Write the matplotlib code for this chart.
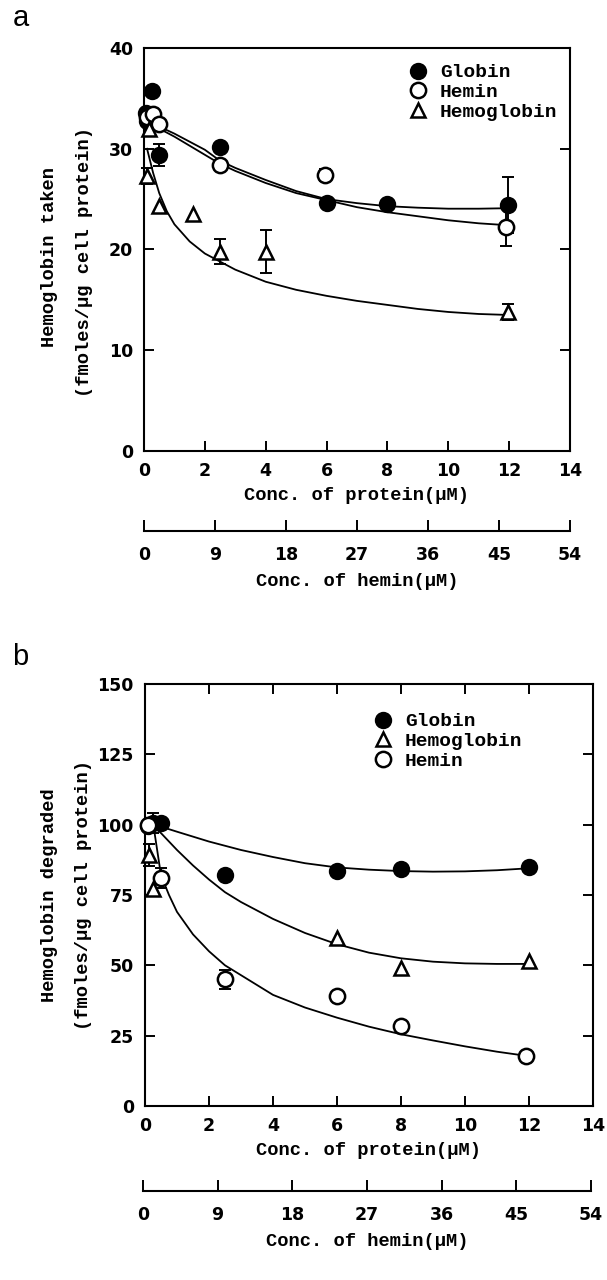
import numpy as np
import matplotlib.pyplot as plt

W, H = 607, 1280

# ---- panel a: uptake ----
a_glob_x = [0.05, 0.1, 0.25, 0.5, 2.5, 6, 8, 11.95]
a_glob_y = [33.5, 32.8, 35.7, 29.4, 30.2, 24.6, 24.5, 24.4]
a_glob_e = [0, 0, 0, 1.1, 0, 0, 0, 2.8]
a_hemin_x = [0.1, 0.3, 0.5, 2.5, 5.95, 11.9]
a_hemin_y = [33.2, 33.4, 32.5, 28.4, 27.4, 22.2]
a_hemin_e = [0, 0, 0, 0, 0.6, 1.9]
a_hb_x = [0.1, 0.15, 0.5, 1.6, 2.5, 4, 11.95]
a_hb_y = [27.3, 32.0, 24.3, 23.5, 19.8, 19.8, 13.8]
a_hb_e = [0.8, 0, 0, 0, 1.2, 2.1, 0.8]

# fitted curves
a_fit_x = [0.1, 0.5, 1, 1.5, 2, 2.5, 3, 4, 5, 6, 7, 8, 9, 10, 11, 12]
a_fit_glob = [32.8, 32.2, 31.5, 30.7, 29.9, 28.8, 28.1, 26.9, 25.8, 25.0, 24.6, 24.3, 24.15, 24.05, 24.05, 24.1]
a_fit_hemin = [32.6, 32.0, 31.2, 30.3, 29.4, 28.5, 27.8, 26.6, 25.6, 24.9, 24.2, 23.7, 23.3, 22.9, 22.6, 22.4]
a_fit_hb_x = [0.1, 0.3, 0.5, 0.75, 1, 1.5, 2, 2.5, 3, 4, 5, 6, 7, 8, 9, 10, 11, 12]
a_fit_hb = [30.0, 27.6, 25.6, 23.8, 22.5, 20.8, 19.6, 18.8, 18.0, 16.8, 16.0, 15.4, 14.9, 14.5, 14.1, 13.8, 13.6, 13.5]

# ---- panel b: degradation ----
b_glob_x = [0.1, 0.25, 0.5, 2.5, 6, 8, 12]
b_glob_y = [99.5, 100.5, 100.5, 82.0, 83.4, 84.1, 84.9]
b_glob_e = [0, 3.5, 0, 0, 0, 0, 0]
b_hb_x = [0.12, 0.25, 6, 8, 12]
b_hb_y = [89.3, 77.3, 59.8, 48.9, 51.5]
b_hb_e = [4, 0, 0, 0, 0]
b_hemin_x = [0.1, 0.5, 2.5, 6, 8, 11.9]
b_hemin_y = [100, 81, 45, 39.2, 28.4, 17.7]
b_hemin_e = [0, 3.5, 3.5, 0, 0, 0]

b_fit_glob_x = [0.3, 1, 2, 3, 4, 5, 6, 7, 8, 9, 10, 11, 12]
b_fit_glob = [100, 97.5, 94, 91, 88.5, 86.3, 84.8, 84.0, 83.5, 83.3, 83.4, 83.8, 84.5]
b_fit_hb_x = [0.3, 0.5, 1, 1.5, 2, 2.5, 3, 4, 5, 6, 7, 8, 9, 10, 11, 12]
b_fit_hb = [99, 97, 91, 85.5, 80.5, 76, 72.5, 66.5, 61.5, 57.5, 54.5, 52.5, 51.3, 50.7, 50.5, 50.5]
b_fit_hemin_x = [0.3, 0.5, 0.75, 1, 1.5, 2, 2.5, 3, 4, 5, 6, 7, 8, 9, 10, 11, 12]
b_fit_hemin = [97, 82, 75, 69, 61, 55, 50, 46.5, 39.5, 35, 31.4, 28.2, 25.5, 23.3, 21.2, 19.3, 17.7]

protein_ticks = [0, 2, 4, 6, 8, 10, 12, 14]
hemin_ticks = [0, 9, 18, 27, 36, 45, 54]

LBL = dict(family='Liberation Mono', weight='bold', size=13.5)
TICKFONT = 12.5

plt.rcParams['font.family'] = 'DejaVu Sans'
plt.rcParams['font.weight'] = 'bold'

fig = plt.figure(figsize=(W / 100, H / 100), dpi=100)


def rect(l, t, r, b):
    return [l / W, 1 - b / H, (r - l) / W, (b - t) / H]


def points(ax, x, y, e, style, label):
    x, y, e = np.array(x), np.array(y), np.array(e)
    m = e > 0
    if m.any():
        ax.errorbar(x[m], y[m], yerr=e[m], fmt='none', ecolor='k', elinewidth=1.4,
                    capsize=4, capthick=1.4, zorder=3, clip_on=False)
    ax.plot(x, y, ls='none', label=label, zorder=4, clip_on=False, **style)


filled = dict(marker='o', ms=11, mfc='k', mec='k', mew=1.5)
open_c = dict(marker='o', ms=11, mfc='white', mec='k', mew=1.8)
open_t = dict(marker='^', ms=10.5, mfc='white', mec='k', mew=1.8)


def style_axes(ax, ylim, yticks, top):
    ax.set_xlim(0, 14)
    ax.set_ylim(*ylim)
    ax.set_xticks(protein_ticks)
    ax.set_yticks(yticks)
    ax.tick_params(direction='in', length=7, width=1.4, right=True, top=top,
                   labelsize=TICKFONT, pad=8)
    for s in ax.spines.values():
        s.set_linewidth(1.5)
    ax.set_xlabel('Conc. of protein(μM)', labelpad=5, **LBL)


def hemin_axis(l, r, y):
    hx = fig.add_axes([l / W, 1 - y / H, (r - l) / W, 0.0001])
    hx.set_xlim(0, 54)
    hx.set_ylim(0, 1)
    for s in ['top', 'left', 'right']:
        hx.spines[s].set_visible(False)
    hx.spines['bottom'].set_linewidth(1.5)
    hx.patch.set_visible(False)
    hx.set_yticks([])
    hx.set_xticks(hemin_ticks)
    hx.tick_params(axis='x', direction='in', length=8, width=1.4, pad=11, labelsize=TICKFONT)
    hx.set_xlabel('Conc. of hemin(μM)', labelpad=6, **LBL)


# ---------- panel a ----------
ax1 = fig.add_axes(rect(144, 48, 570, 451))
ax1.plot(a_fit_x, a_fit_glob, 'k-', lw=1.3, zorder=2)
ax1.plot(a_fit_x, a_fit_hemin, 'k-', lw=1.3, zorder=2)
ax1.plot(a_fit_hb_x, a_fit_hb, 'k-', lw=1.3, zorder=2)
points(ax1, a_glob_x, a_glob_y, a_glob_e, filled, 'Globin')
points(ax1, a_hemin_x, a_hemin_y, a_hemin_e, open_c, 'Hemin')
points(ax1, a_hb_x, a_hb_y, a_hb_e, open_t, 'Hemoglobin')
style_axes(ax1, (0, 40), [0, 10, 20, 30, 40], False)
ax1.legend(loc='upper left', bbox_to_anchor=(399 / W, 1 - 54 / H), bbox_transform=fig.transFigure,
           frameon=False, handlelength=1.0, handletextpad=0.6, labelspacing=0.12,
           borderpad=0, prop=dict(family='Liberation Mono', weight='bold', size=14))
fig.text(50 / W, 1 - 257 / H, 'Hemoglobin taken', rotation=90, ha='center', va='center', **LBL)
fig.text(85 / W, 1 - 262 / H, '(fmoles/μg cell protein)', rotation=90, ha='center', va='center', **LBL)
fig.text(21 / W, 1 - 18 / H, 'a', ha='center', va='center', family='Liberation Sans',
         weight='normal', size=21)
hemin_axis(144, 570, 531)

# ---------- panel b ----------
ax2 = fig.add_axes(rect(145, 684, 593, 1106))
ax2.plot(b_fit_glob_x, b_fit_glob, 'k-', lw=1.3, zorder=2)
ax2.plot(b_fit_hb_x, b_fit_hb, 'k-', lw=1.3, zorder=2)
ax2.plot(b_fit_hemin_x, b_fit_hemin, 'k-', lw=1.3, zorder=2)
points(ax2, b_glob_x, b_glob_y, b_glob_e, filled, 'Globin')
points(ax2, b_hb_x, b_hb_y, b_hb_e, open_t, 'Hemoglobin')
points(ax2, b_hemin_x, b_hemin_y, b_hemin_e, open_c, 'Hemin')
style_axes(ax2, (0, 150), [0, 25, 50, 75, 100, 125, 150], True)
ax2.legend(loc='upper left', bbox_to_anchor=(364 / W, 1 - 703 / H), bbox_transform=fig.transFigure,
           frameon=False, handlelength=1.0, handletextpad=0.6, labelspacing=0.12,
           borderpad=0, prop=dict(family='Liberation Mono', weight='bold', size=14))
fig.text(50 / W, 1 - 895 / H, 'Hemoglobin degraded', rotation=90, ha='center', va='center', **LBL)
fig.text(84 / W, 1 - 895 / H, '(fmoles/μg cell protein)', rotation=90, ha='center', va='center', **LBL)
fig.text(20 / W, 1 - 657 / H, 'b', ha='center', va='center', family='Liberation Sans',
         weight='normal', size=21)
hemin_axis(143, 591, 1191)

fig.savefig('out.png', dpi=100)
